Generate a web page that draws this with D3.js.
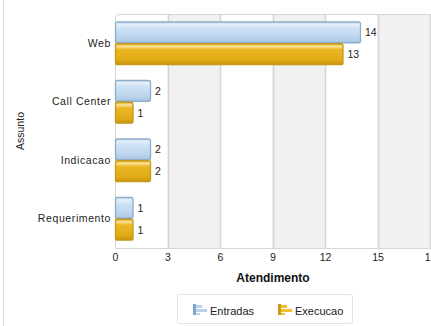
<!DOCTYPE html>
<html><head><meta charset="utf-8">
<script src="https://cdn.jsdelivr.net/npm/d3@7/dist/d3.min.js"></script>
<style>body{margin:0;background:#fff;}svg{display:block;font-family:"Liberation Sans",Arial,sans-serif;}</style>
</head><body>
<svg id="c" width="431" height="326"></svg>
<script>
const categories = ["Web", "Call Center", "Indicacao", "Requerimento"];
const seriesNames = ["Entradas", "Execucao"];
const entradas = [14, 2, 2, 1];
const execucao = [13, 1, 2, 1];
const xTicks = [0, 3, 6, 9, 12, 15, 18];

const svg = d3.select("#c");
const W = 431, H = 326;
const m = {left: 115, right: 431, top: 14, bottom: 248};
const x = d3.scaleLinear().domain([0, 18]).range([m.left, 430]);
const y = d3.scaleBand().domain(categories).range([m.top, m.bottom]).paddingInner(0.25).paddingOuter(0.125);
const ys = d3.scaleBand().domain(seriesNames).range([0, y.bandwidth()]);

const defs = svg.append("defs");
const g1 = defs.append("linearGradient").attr("id","gBlue").attr("x1",0).attr("y1",0).attr("x2",0).attr("y2",1);
[[0,"#a9c6e2"],[0.12,"#e6f0fa"],[0.3,"#cfe2f4"],[0.75,"#bcd5ee"],[1,"#a8c4e0"]].forEach(s=>g1.append("stop").attr("offset",s[0]).attr("stop-color",s[1]));
const g2 = defs.append("linearGradient").attr("id","gGold").attr("x1",0).attr("y1",0).attr("x2",0).attr("y2",1);
[[0,"#e0ad1c"],[0.12,"#fbe29a"],[0.28,"#e9b622"],[0.75,"#e3ac16"],[1,"#c99410"]].forEach(s=>g2.append("stop").attr("offset",s[0]).attr("stop-color",s[1]));
const fills = {Entradas:"url(#gBlue)", Execucao:"url(#gGold)"};
const strokes = {Entradas:"#8eabc8", Execucao:"#c39a1e"};

// outer frame line
svg.append("line").attr("x1",3.5).attr("x2",3.5).attr("y1",0).attr("y2",H).attr("stroke","#dcdcdc");

// alternating bands
const bands = svg.append("g");
for (let i = 0; i < xTicks.length - 1; i++) {
  bands.append("rect").attr("x", x(xTicks[i])).attr("y", m.top)
    .attr("width", x(xTicks[i+1]) - x(xTicks[i])).attr("height", m.bottom - m.top)
    .attr("fill", i % 2 === 0 ? "#ffffff" : "#f1f1f1");
}
// plot frame
svg.append("path").attr("d", `M${W+1},${m.top+0.5} H${m.left+4} Q${m.left+0.5},${m.top+0.5} ${m.left+0.5},${m.top+4} V${m.bottom+0.5} H${W+1}`)
  .attr("fill","none").attr("stroke","#d6d6d6");
// grid lines
svg.append("g").selectAll("line").data(xTicks.slice(1)).join("line")
  .attr("x1", d => Math.round(x(d))+0.5).attr("x2", d => Math.round(x(d))+0.5)
  .attr("y1", m.top).attr("y2", m.bottom).attr("stroke","#d4d4d4").attr("stroke-width",1.5);

// x axis
const xAxis = svg.append("g").attr("transform", `translate(0,${m.bottom+3})`)
  .call(d3.axisBottom(x).tickValues(xTicks).tickSize(0).tickPadding(3));
xAxis.select(".domain").remove();
xAxis.selectAll("text").attr("font-size", 10.5).attr("fill","#222").attr("font-family","Liberation Sans, Arial, sans-serif");

// y axis
const yAxis = svg.append("g").attr("transform", `translate(${m.left-4},0)`)
  .call(d3.axisLeft(y).tickSize(0).tickPadding(0));
yAxis.select(".domain").remove();
yAxis.selectAll("text").attr("font-size", 10.5).attr("fill","#222").attr("letter-spacing","0.6px").attr("font-family","Liberation Sans, Arial, sans-serif");

// bars
const data = [];
categories.forEach((c, i) => {
  data.push({cat:c, s:"Entradas", v:entradas[i]});
  data.push({cat:c, s:"Execucao", v:execucao[i]});
});
const bars = svg.append("g");
bars.selectAll("rect").data(data).join("rect")
  .attr("x", x(0)+0.5)
  .attr("y", d => y(d.cat) + ys(d.s) + 0.5)
  .attr("width", d => x(d.v) - x(0))
  .attr("height", ys.bandwidth() - 1)
  .attr("rx", 2)
  .attr("fill", d => fills[d.s]).attr("stroke", d => strokes[d.s]).attr("stroke-width", 1.3);
svg.append("g").selectAll("text").data(data).join("text")
  .attr("x", d => x(d.v) + 5)
  .attr("y", d => y(d.cat) + ys(d.s) + ys.bandwidth()/2 + 4)
  .attr("font-size", 10.5).attr("fill","#222").text(d => d.v);

// axis titles
svg.append("text").attr("x", (m.left + W)/2).attr("y", 282).attr("text-anchor","middle")
  .attr("font-size", 12).attr("font-weight","bold").attr("fill","#111").text("Atendimento");
svg.append("text").attr("transform","translate(24,131) rotate(-90)").attr("text-anchor","middle")
  .attr("font-size", 10.5).attr("fill","#222").text("Assunto");

// legend
const lg = svg.append("g");
lg.append("rect").attr("x",177.5).attr("y",294.5).attr("width",175).attr("height",29).attr("rx",2)
  .attr("fill","#fff").attr("stroke","#e2e2e2");
const items = [{n:"Entradas", x:193, c:"#b9d3ee", d:"#7fa6cc"},{n:"Execucao", x:278, c:"#f0c030", d:"#cf9a10"}];
items.forEach(it => {
  const g = lg.append("g").attr("transform", `translate(${it.x},304)`);
  g.append("rect").attr("x",0).attr("y",0).attr("width",3).attr("height",11).attr("fill",it.d);
  g.append("rect").attr("x",3).attr("y",1).attr("width",6).attr("height",3).attr("fill",it.c);
  g.append("rect").attr("x",3).attr("y",5).attr("width",11).attr("height",3).attr("fill",it.c);
  g.append("rect").attr("x",3).attr("y",9).attr("width",4).attr("height",2).attr("fill",it.c);
  lg.append("text").attr("x", it.x + 17).attr("y", 315).attr("font-size", 11).attr("fill","#222").text(it.n);
});
</script>
</body></html>
